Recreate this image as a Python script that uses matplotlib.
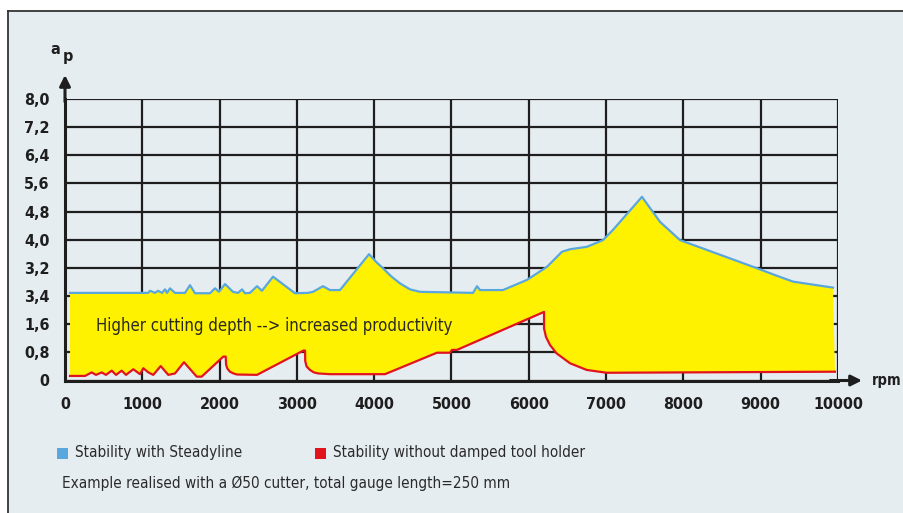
import matplotlib
matplotlib.use("Agg")
import matplotlib.pyplot as plt
from matplotlib import font_manager
from matplotlib.lines import Line2D
from matplotlib.patches import Rectangle
import numpy as np

# spindle speed (rpm) / depth of cut for the Steadyline curve
steady_rpm = [65, 1074, 1100, 1164, 1203, 1255, 1294, 1320, 1358, 1423, 1552, 1617, 1682,
              1876, 1940, 1992, 2070, 2173, 2238, 2290, 2329, 2393, 2484, 2548, 2691, 2975,
              3144, 3208, 3338, 3428, 3557, 3933, 4030, 4114, 4220, 4334, 4463, 4592, 5278,
              5330, 5369, 5666, 5977, 6235, 6429, 6533, 6753, 6960, 7089, 7464, 7697, 7956,
              8952, 9180, 9418, 9935]
steady_ap = [2.49, 2.49, 2.55, 2.49, 2.55, 2.49, 2.59, 2.49, 2.62, 2.49, 2.49, 2.71, 2.48,
             2.48, 2.62, 2.52, 2.74, 2.52, 2.49, 2.59, 2.48, 2.49, 2.68, 2.55, 2.95, 2.48,
             2.49, 2.52, 2.68, 2.57, 2.57, 3.59, 3.36, 3.19, 2.96, 2.76, 2.59, 2.52, 2.49,
             2.68, 2.57, 2.57, 2.86, 3.23, 3.66, 3.73, 3.80, 3.99, 4.28, 5.22, 4.51, 3.99,
             3.19, 3.00, 2.81, 2.64]

# curve for the undamped tool holder
plain_rpm = [65, 259, 345, 401, 475, 530, 604, 660, 733, 789, 884, 970, 1013, 1078, 1142,
             1238, 1336, 1423, 1539, 1704, 1768, 2048, 2079, 2084, 2100, 2134, 2180, 2225,
             2484, 3083, 3105, 3108, 3125, 3169, 3220, 3277, 3428, 4140, 4812, 4981, 5006,
             5071, 6197, 6197, 6222, 6274, 6360, 6533, 6749, 7008, 9961]
plain_ap = [0.13, 0.13, 0.23, 0.16, 0.23, 0.16, 0.28, 0.16, 0.28, 0.16, 0.32, 0.18, 0.35,
            0.23, 0.16, 0.41, 0.16, 0.20, 0.52, 0.11, 0.11, 0.68, 0.68, 0.45, 0.34, 0.25,
            0.20, 0.17, 0.16, 0.85, 0.85, 0.55, 0.40, 0.30, 0.23, 0.20, 0.18, 0.18, 0.79,
            0.79, 0.87, 0.87, 1.95, 1.48, 1.24, 1.01, 0.77, 0.49, 0.30, 0.22, 0.25]

x_ticks = list(range(0, 10001, 1000))
y_labels = ["0", "0,8", "1,6", "3,4", "3,2", "4,0", "4,8", "5,6", "6,4", "7,2", "8,0"]

BG = "#e6edf1"
BLUE = "#5aa7dd"
RED = "#e1141e"
YELLOW = "#fff200"
INK = "#1e1e1e"

# look for a narrow face, the reference uses a condensed font
narrow = {}
for f in font_manager.fontManager.ttflist:
    nm = (f.name + " " + f.fname).lower()
    if ("narrow" in nm or "condensed" in nm or f.stretch in ("condensed", 600, "semi-condensed")) \
            and "mono" not in nm and "serif" not in f.name.lower():
        bold = f.weight in ("bold", 700) or "bold" in f.fname.lower()
        oblique = f.style != "normal" or "oblique" in f.fname.lower() or "italic" in f.fname.lower()
        if oblique:
            continue
        narrow.setdefault("bold" if bold else "regular", f.fname)

if "regular" in narrow:
    REG = font_manager.FontProperties(fname=narrow["regular"])
    BOLD = font_manager.FontProperties(fname=narrow.get("bold", narrow["regular"]))
    S_TICK, S_TXT, S_LEG = 11.5, 12, 11
else:
    REG = font_manager.FontProperties(family="DejaVu Sans")
    BOLD = font_manager.FontProperties(family="DejaVu Sans", weight="bold")
    S_TICK, S_TXT, S_LEG = 10, 10.5, 9.5


def fp(base, size):
    p = base.copy()
    p.set_size(size)
    return p


W, H = 904, 513
fig = plt.figure(figsize=(W / 100, H / 100), dpi=100)
fig.patch.set_facecolor("white")

# panel background and frame lines
fig.add_artist(Rectangle((8 / W, 0), 1, 1 - 11 / H, transform=fig.transFigure,
                         facecolor=BG, edgecolor="none", zorder=-5))
fig.add_artist(Line2D([8 / W, 8 / W], [0, 1 - 11 / H], transform=fig.transFigure,
                      color="#333333", lw=1.3))
fig.add_artist(Line2D([8 / W, 1], [1 - 11 / H, 1 - 11 / H], transform=fig.transFigure,
                      color="#333333", lw=1.3))

x0, x1 = 65, 838
y0, y1 = 380.5, 99
ax = fig.add_axes([x0 / W, (H - y0) / H, (x1 - x0) / W, (y0 - y1) / H])
ax.set_facecolor("none")
ax.set_xlim(0, 10000)
ax.set_ylim(0, 8)

ax.set_xticks(x_ticks)
ax.set_xticklabels([str(t) for t in x_ticks], fontproperties=fp(BOLD, S_TICK))
ax.set_yticks(np.arange(11) * 0.8)
ax.set_yticklabels(y_labels, fontproperties=fp(BOLD, S_TICK))
ax.tick_params(length=0, colors=INK)
ax.tick_params(axis="y", pad=11)
ax.tick_params(axis="x", pad=12)

ax.grid(True, color=INK, lw=1.6, zorder=0)
ax.set_axisbelow(True)
for s in ["top", "right"]:
    ax.spines[s].set_visible(False)
for s in ["left", "bottom"]:
    ax.spines[s].set_linewidth(2.2)
    ax.spines[s].set_color(INK)
    ax.spines[s].set_zorder(5)

# yellow band between the two curves
poly_x = steady_rpm + plain_rpm[::-1]
poly_y = steady_ap + plain_ap[::-1]
ax.fill(poly_x, poly_y, color=YELLOW, zorder=1, lw=0)
ax.plot(steady_rpm, steady_ap, color=BLUE, lw=1.6, zorder=3)
ax.plot(plain_rpm, plain_ap, color=RED, lw=1.6, zorder=3)

ax.text(400, 1.55, "Higher cutting depth --> increased productivity",
        fontproperties=fp(REG, S_TXT), color="#2a2a20", va="center", ha="left", zorder=4)

# axis arrows
ax.annotate("", xy=(1 + 24 / 773, 0), xytext=(0.99, 0), xycoords="axes fraction",
            arrowprops=dict(arrowstyle="-|>", color=INK, lw=2.2, mutation_scale=16,
                            shrinkA=0, shrinkB=0), annotation_clip=False)
ax.annotate("", xy=(0, 1 + 24 / 281.5), xytext=(0, 0.99), xycoords="axes fraction",
            arrowprops=dict(arrowstyle="-|>", color=INK, lw=2.2, mutation_scale=16,
                            shrinkA=0, shrinkB=0), annotation_clip=False)

fig.text(872 / W, 1 - 381 / H, "rpm", fontproperties=fp(BOLD, 10.5), color=INK,
         va="center", ha="left")
fig.text(55 / W, 1 - 50 / H, "a", fontproperties=fp(BOLD, S_TICK), color=INK,
         va="center", ha="center")
fig.text(68 / W, 1 - 56 / H, "p", fontproperties=fp(BOLD, S_TICK), color=INK,
         va="center", ha="center")

# legend
fig.add_artist(Rectangle((57 / W, 1 - 459 / H), 11 / W, 11 / H, transform=fig.transFigure,
                         facecolor=BLUE, edgecolor="none"))
fig.text(75 / W, 1 - 453 / H, "Stability with Steadyline", fontproperties=fp(REG, S_LEG),
         color="#2a2a2a", va="center", ha="left")
fig.add_artist(Rectangle((315 / W, 1 - 459 / H), 11 / W, 11 / H, transform=fig.transFigure,
                         facecolor=RED, edgecolor="none"))
fig.text(333 / W, 1 - 453 / H, "Stability without damped tool holder",
         fontproperties=fp(REG, S_LEG), color="#2a2a2a", va="center", ha="left")
fig.text(62 / W, 1 - 483 / H, "Example realised with a Ø50 cutter, total gauge length=250 mm",
         fontproperties=fp(REG, S_LEG), color="#2a2a2a", va="center", ha="left")

fig.savefig("out.png", dpi=100)
